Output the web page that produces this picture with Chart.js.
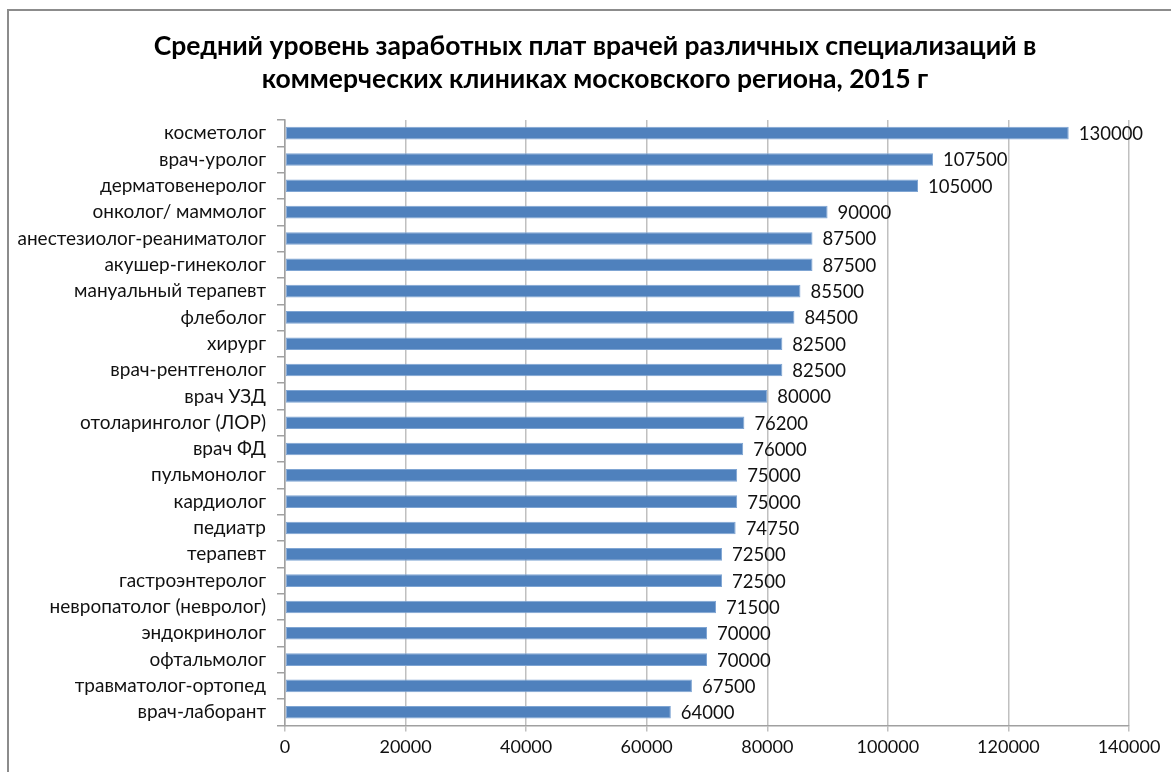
<!DOCTYPE html>
<html>
<head>
<meta charset="utf-8">
<script src="https://cdn.jsdelivr.net/npm/chart.js@4"></script>
<style>
  html, body { margin: 0; padding: 0; background: #fff; overflow: hidden; }
  #frame { position: absolute; left: 7px; top: 9px; width: 1300px; height: 900px; border: 2px solid #8c8c8c; box-sizing: border-box; }
  #wrap { position: absolute; left: 0; top: 0; width: 1171px; height: 772px; }
</style>
</head>
<body>
<div id="frame"></div>
<div id="wrap"><canvas id="chart" width="1171" height="772"></canvas></div>
<script>
// Специализации (сверху вниз)
const specialties = [
  "косметолог", "врач-уролог", "дерматовенеролог", "онколог/ маммолог",
  "анестезиолог-реаниматолог", "акушер-гинеколог", "мануальный терапевт",
  "флеболог", "хирург", "врач-рентгенолог", "врач УЗД", "отоларинголог (ЛОР)",
  "врач ФД", "пульмонолог", "кардиолог", "педиатр", "терапевт",
  "гастроэнтеролог", "невропатолог (невролог)", "эндокринолог", "офтальмолог",
  "травматолог-ортопед", "врач-лаборант"
];

const salaries = [
  130000, 107500, 105000, 90000, 87500, 87500, 85500, 84500, 82500, 82500,
  80000, 76200, 76000, 75000, 75000, 74750, 72500, 72500, 71500, 70000,
  70000, 67500, 64000
];

const titleLines = [
  "Средний уровень заработных плат врачей различных специализаций в",
  "коммерческих клиниках московского региона, 2015 г"
];

const xTicks = [0, 20000, 40000, 60000, 80000, 100000, 120000, 140000];

const fontName = "Lato, 'Open Sans', sans-serif";

// заголовок по центру рамки (как в Excel)
const chartTitle = {
  id: 'chartTitle',
  afterDraw(chart) {
    const ctx = chart.ctx;
    ctx.save();
    ctx.font = "bold 26.5px " + fontName;
    ctx.fillStyle = "#000";
    ctx.textAlign = "center";
    ctx.textBaseline = "middle";
    titleLines.forEach((t, i) => ctx.fillText(t, 595, 46 + i * 33));
    ctx.restore();
  }
};

// подписи значений справа от столбцов
const valueLabels = {
  id: 'valueLabels',
  afterDatasetsDraw(chart) {
    const ctx = chart.ctx;
    const meta = chart.getDatasetMeta(0);
    ctx.save();
    ctx.font = "18.5px " + fontName;
    ctx.fillStyle = "#111";
    ctx.textAlign = "left";
    ctx.textBaseline = "middle";
    meta.data.forEach((bar, i) => {
      ctx.fillText(String(salaries[i]), bar.x + 10, bar.y + 1);
    });
    ctx.restore();
  }
};

const ctx = document.getElementById('chart').getContext('2d');
new Chart(ctx, {
  type: 'bar',
  data: {
    labels: specialties,
    datasets: [{
      data: salaries,
      backgroundColor: '#4f81bd',
      borderColor: '#7fa5d3',
      borderWidth: 1,
      borderSkipped: false,
      categoryPercentage: 1,
      barPercentage: 0.48
    }]
  },
  options: {
    indexAxis: 'y',
    responsive: false,
    animation: false,
    layout: { padding: { top: 120, right: 42, left: 0, bottom: 9 } },
    plugins: {
      legend: { display: false },
      tooltip: { enabled: false },
      title: { display: false }
    },
    scales: {
      x: {
        min: 0,
        max: 140000,
        afterBuildTicks: s => { s.ticks = xTicks.map(v => ({ value: v })); },
        grid: { color: '#c0c0c0', lineWidth: 1.5, tickLength: 6 },
        border: { color: '#a0a0a0', width: 1.5 },
        ticks: {
          color: '#111',
          font: { family: fontName, size: 18 },
          padding: 5,
          maxRotation: 0,
          callback: v => String(v)
        }
      },
      y: {
        afterFit: s => { s.width = 285; },
        grid: { drawOnChartArea: false, color: '#a0a0a0', tickLength: 8, lineWidth: 1.5 },
        border: { color: '#a0a0a0', width: 1.5 },
        ticks: {
          color: '#111',
          font: { family: fontName, size: 19 },
          padding: 11,
          autoSkip: false
        }
      }
    }
  },
  plugins: [valueLabels, chartTitle]
});
</script>
</body>
</html>
